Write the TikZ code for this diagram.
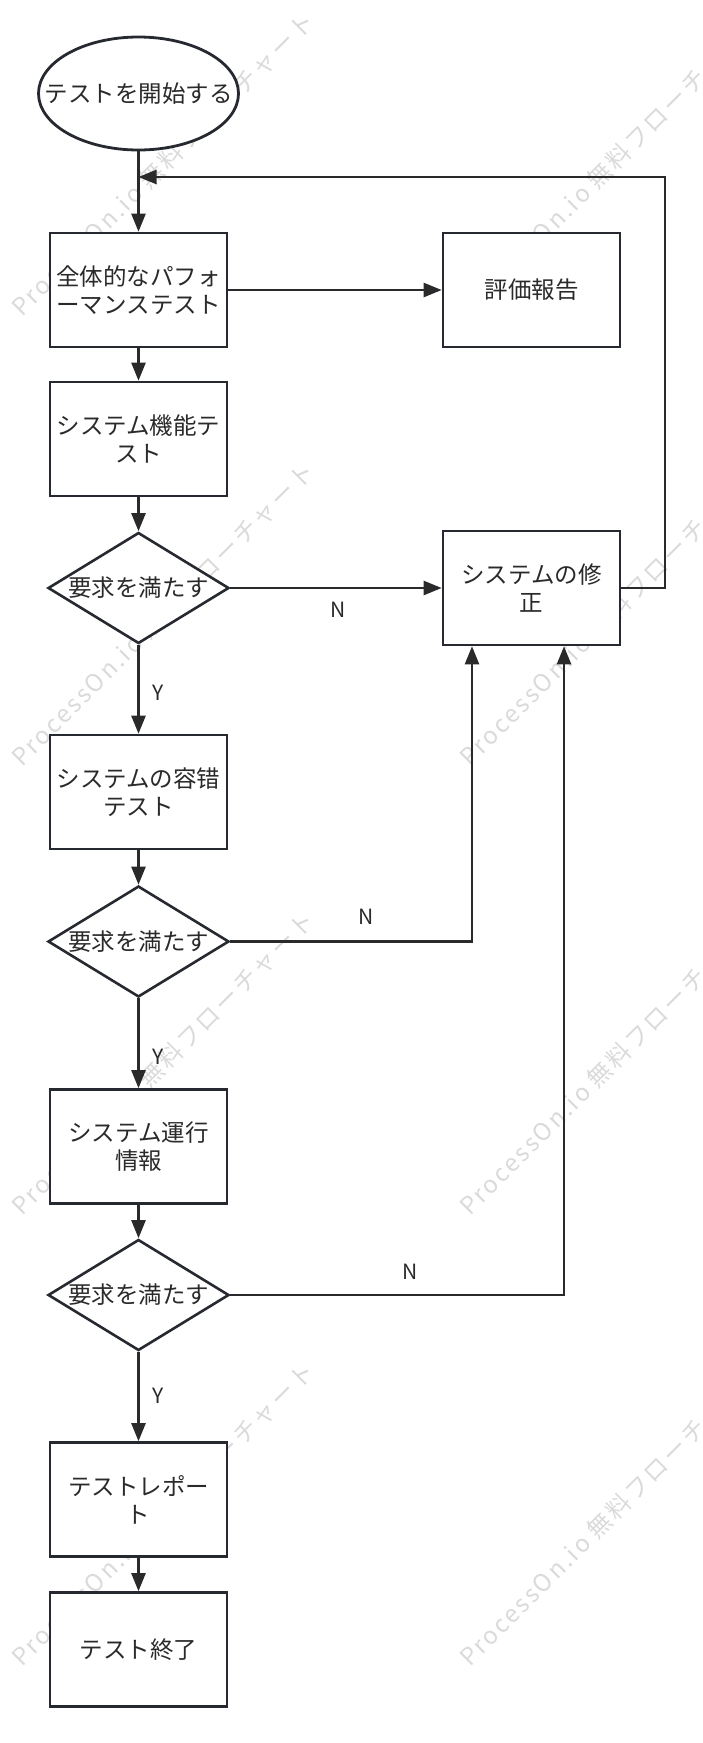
\documentclass[tikz,border=0pt]{standalone}
\usepackage{fontspec}
\setmainfont{Noto Sans CJK JP}
\newfontfamily\wmfont[LetterSpace=10]{Noto Sans CJK JP}
\usetikzlibrary{shapes.geometric,arrows.meta}
\definecolor{ink}{RGB}{42,42,42}
\definecolor{edgec}{RGB}{38,42,48}
\definecolor{wm}{RGB}{218,218,218}
\begin{document}
\begin{tikzpicture}[x=1pt,y=-1pt,
  box/.style={draw=edgec, line width=2.6pt, fill=white, minimum width=177pt, minimum height=114pt, inner sep=0pt, align=center, text=ink, font=\fontsize{23.5}{28}\selectfont},
  dec/.style={draw=edgec, line width=2.6pt, fill=white, diamond, minimum width=181pt, minimum height=111pt, inner sep=0pt, text=ink, font=\fontsize{23.5}{28}\selectfont},
  term/.style={draw=edgec, line width=2.8pt, fill=white, ellipse, minimum width=200pt, minimum height=113pt, inner sep=0pt, text=ink, font=\fontsize{23.5}{28}\selectfont},
  conn/.style={draw=ink, line width=2.4pt, -{Triangle[length=18pt,width=14pt]}},
  lab/.style={text=ink, font=\fontsize{21}{24}\selectfont, inner sep=0pt},
  wmark/.style={text=wm, font=\wmfont\fontsize{24}{28}\selectfont, rotate=45, anchor=base west, inner sep=0pt}]
\useasboundingbox (0,0) rectangle (702,1743);
\clip (0,0) rectangle (702,1743);

% watermarks
\foreach \wx/\wy [count=\i] in {22/318,470/318,22/768,470/768,22/1217,470/1217,22/1668,470/1668}{
  \node[wmark] (wm\i) at (\wx,\wy) {ProcessOn.io 無料フローチャート};
}

% nodes
\node[term] (start) at (138.5,93.5) {\makebox[0pt]{テストを開始する}};
\node[box] (b1) at (138.5,290) {全体的なパフォ\\ーマンステスト};
\node[box] (rep) at (531.5,290) {評価報告};
\node[box] (b2) at (138.5,439) {システム機能テ\\スト};
\node[dec] (d1) at (138.5,588) {\makebox[0pt]{要求を満たす}};
\node[box] (rev) at (531.5,588) {システムの修\\正};
\node[box] (b3) at (138.5,792) {システムの容错\\テスト};
\node[dec] (d2) at (138.5,941.5) {\makebox[0pt]{要求を満たす}};
\node[box] (b4) at (138.5,1146.5) {システム運行\\情報};
\node[dec] (d3) at (138.5,1295) {\makebox[0pt]{要求を満たす}};
\node[box] (b5) at (138.5,1499.5) {テストレポー\\ト};
\node[box] (b6) at (138.5,1649.5) {テスト終了};

% helper coordinates
\coordinate (j) at (138.5,177);
\coordinate (ft) at (665,177);
\coordinate (c2) at (472,941.5);
\coordinate (c3) at (564,1295);

% connectors
\draw[conn] (start.south) -- (b1.north);
\draw[conn] (rev.east) -| (ft) -- (j);
\draw[conn] (b1.east) -- (rep.west);
\draw[conn] (b1.south) -- (b2.north);
\draw[conn] (b2.south) -- (d1.north);
\draw[conn] (d1.east) -- (rev.west);
\draw[conn] (d1.south) -- (b3.north);
\draw[conn] (b3.south) -- (d2.north);
\draw[conn] (d2.east) -- (c2) -- (c2 |- rev.south);
\draw[conn] (d2.south) -- (b4.north);
\draw[conn] (b4.south) -- (d3.north);
\draw[conn] (d3.east) -- (c3) -- (c3 |- rev.south);
\draw[conn] (d3.south) -- (b5.north);
\draw[conn] (b5.south) -- (b6.north);

% labels
\node[lab] (n1) at (338,610) {N};
\node[lab] (y1) at (158,693) {Y};
\node[lab] (n2) at (366,917) {N};
\node[lab] (y2) at (158,1057) {Y};
\node[lab] (n3) at (410,1272) {N};
\node[lab] (y3) at (158,1396) {Y};
\end{tikzpicture}
\end{document}
